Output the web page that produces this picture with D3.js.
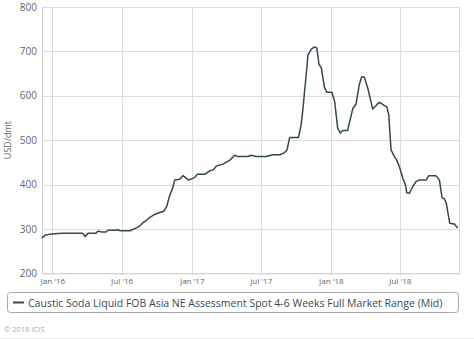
<!DOCTYPE html>
<html>
<head>
<meta charset="utf-8">
<script src="https://cdn.jsdelivr.net/npm/d3@7"></script>
<style>
  html, body { margin: 0; padding: 0; background: #fff; }
  svg { display: block; font-family: "Open Sans", "DejaVu Sans", sans-serif; }
</style>
</head>
<body>
<svg id="chart" width="474" height="339"></svg>
<script>
// Caustic soda liquid FOB Asia NE, weekly mid assessments (USD/dmt)
const dates = [
  "2015-12-05","2015-12-13","2015-12-26","2016-01-08","2016-01-26","2016-03-21","2016-03-27","2016-04-04",
  "2016-04-24","2016-04-30","2016-05-10","2016-05-21","2016-05-26","2016-06-13","2016-06-21","2016-06-26",
  "2016-07-23","2016-08-10","2016-08-18","2016-08-26","2016-09-05","2016-09-13","2016-09-26","2016-10-09",
  "2016-10-20","2016-10-27","2016-11-04","2016-11-12","2016-11-17","2016-11-30","2016-12-09","2016-12-24",
  "2017-01-09","2017-01-15","2017-02-04","2017-02-17","2017-02-26","2017-03-07","2017-03-24","2017-04-11",
  "2017-04-24","2017-05-02","2017-05-28","2017-06-06","2017-06-19","2017-07-16","2017-08-02","2017-08-20",
  "2017-09-02","2017-09-08","2017-09-15","2017-10-08","2017-10-15","2017-10-20","2017-10-24","2017-10-30",
  "2017-11-02","2017-11-11","2017-11-19","2017-11-25","2017-12-01","2017-12-07","2017-12-15","2017-12-21",
  "2018-01-04","2018-01-11","2018-01-19","2018-01-26","2018-02-01","2018-02-14","2018-02-28","2018-03-08",
  "2018-03-17","2018-03-23","2018-03-30","2018-04-08","2018-04-21","2018-04-30","2018-05-07","2018-05-13",
  "2018-05-22","2018-05-28","2018-06-02","2018-06-08","2018-06-17","2018-06-23","2018-06-30","2018-07-09",
  "2018-07-16","2018-07-19","2018-07-26","2018-08-04","2018-08-13","2018-08-21","2018-09-08","2018-09-15",
  "2018-10-04","2018-10-13","2018-10-20","2018-10-26","2018-10-31","2018-11-09","2018-11-21","2018-11-30"
];
const values = [
  279, 286, 288, 289, 290, 290, 283, 290,
  290, 295, 293, 293, 297, 297, 298, 296,
  296, 303, 307, 314, 320, 326, 333, 337,
  340, 350, 375, 392, 410, 412, 420, 410,
  416, 423, 423, 431, 433, 442, 446, 455,
  466, 463, 463, 466, 463, 463, 467, 467,
  472, 478, 506, 506, 534, 572, 609, 662,
  692, 705, 710, 708, 671, 663, 620, 608,
  608, 587, 527, 516, 522, 522, 572, 581,
  626, 643, 642, 617, 570, 578, 585, 583,
  578, 575, 557, 478, 463, 455, 440, 414,
  399, 382, 380, 395, 407, 410, 410, 420,
  420, 410, 370, 368, 358, 313, 311, 302
];
const yTicks = [200, 300, 400, 500, 600, 700, 800];
const xTickDates = ["2016-01-01","2016-07-01","2017-01-01","2017-07-01","2018-01-01","2018-07-01"];
const seriesName = "Caustic Soda Liquid FOB Asia NE Assessment Spot 4-6 Weeks Full Market Range (Mid)";

const parse = d3.utcParse("%Y-%m-%d");
const series = dates.map((d, i) => ({ date: parse(d), value: values[i] }));

const svg = d3.select("#chart");
const plot = { left: 42, right: 460, top: 7, bottom: 273.3 };
const lineColor = "#34484f";

const x = d3.scaleUtc()
  .domain([parse("2015-12-05"), parse("2018-12-06")])
  .range([plot.left, plot.right]);
const y = d3.scaleLinear()
  .domain([200, 800])
  .range([plot.bottom, plot.top]);

// horizontal grid
svg.append("g")
  .selectAll("line")
  .data(yTicks)
  .join("line")
  .attr("x1", plot.left).attr("x2", plot.right)
  .attr("y1", d => Math.round(y(d)) + 0.5).attr("y2", d => Math.round(y(d)) + 0.5)
  .attr("stroke", "#dcdcdc");

// vertical grid
svg.append("g")
  .selectAll("line")
  .data(xTickDates.map(parse))
  .join("line")
  .attr("x1", d => Math.round(x(d)) + 0.5).attr("x2", d => Math.round(x(d)) + 0.5)
  .attr("y1", plot.top).attr("y2", plot.bottom + 2)
  .attr("stroke", "#dcdcdc");

// plot frame (left + right edges)
svg.append("line")
  .attr("x1", plot.left + 0.5).attr("x2", plot.left + 0.5)
  .attr("y1", plot.top).attr("y2", plot.bottom)
  .attr("stroke", "#cfcfcf");
svg.append("line")
  .attr("x1", plot.right - 0.5).attr("x2", plot.right - 0.5)
  .attr("y1", plot.top).attr("y2", plot.bottom)
  .attr("stroke", "#dcdcdc");

// y axis labels
const yAxis = d3.axisLeft(y).tickValues(yTicks).tickSize(0).tickPadding(5);
svg.append("g")
  .attr("transform", `translate(${plot.left},0)`)
  .call(yAxis)
  .call(g => g.select(".domain").remove())
  .call(g => g.selectAll("text")
    .attr("fill", "#666")
    .style("font-size", "10px")
    .style("font-family", "'Open Sans', sans-serif"));

// x axis labels
const xAxis = d3.axisBottom(x)
  .tickValues(xTickDates.map(parse))
  .tickFormat(d3.utcFormat("%b '%y"))
  .tickSize(0)
  .tickPadding(5);
svg.append("g")
  .attr("transform", `translate(0,${plot.bottom})`)
  .call(xAxis)
  .call(g => g.select(".domain")
    .attr("stroke", "#cfcfcf"))
  .call(g => g.selectAll("text")
    .attr("fill", "#666")
    .style("font-size", "8px")
    .style("font-family", "'Open Sans', sans-serif"));

// y axis title
svg.append("text")
  .attr("transform", `translate(11,${(plot.top + plot.bottom) / 2}) rotate(-90)`)
  .attr("text-anchor", "middle")
  .attr("fill", "#666")
  .style("font-size", "9px")
  .text("USD/dmt");

// price line
const line = d3.line()
  .x(d => x(d.date))
  .y(d => y(d.value));
svg.append("path")
  .datum(series)
  .attr("d", line)
  .attr("fill", "none")
  .attr("stroke", lineColor)
  .attr("stroke-width", 1.5)
  .attr("stroke-linejoin", "round");

// legend
const legend = svg.append("g");
legend.append("rect")
  .attr("x", 7.5).attr("y", 292.5)
  .attr("width", 451).attr("height", 20)
  .attr("rx", 3)
  .attr("fill", "#fff")
  .attr("stroke", "#a8a8a8");
legend.append("line")
  .attr("x1", 13).attr("x2", 24)
  .attr("y1", 302.5).attr("y2", 302.5)
  .attr("stroke", lineColor)
  .attr("stroke-width", 2);
legend.append("text")
  .attr("x", 28).attr("y", 306.5)
  .attr("fill", "#3a4a55")
  .style("font-size", "10.5px")
  .text(seriesName);

// credit
svg.append("text")
  .attr("x", 4).attr("y", 332)
  .attr("fill", "#aaa")
  .style("font-size", "7.5px")
  .text("© 2018 ICIS");

svg.append("line")
  .attr("x1", 0).attr("x2", 474)
  .attr("y1", 338.5).attr("y2", 338.5)
  .attr("stroke", "#e6e6e6");
</script>
</body>
</html>
